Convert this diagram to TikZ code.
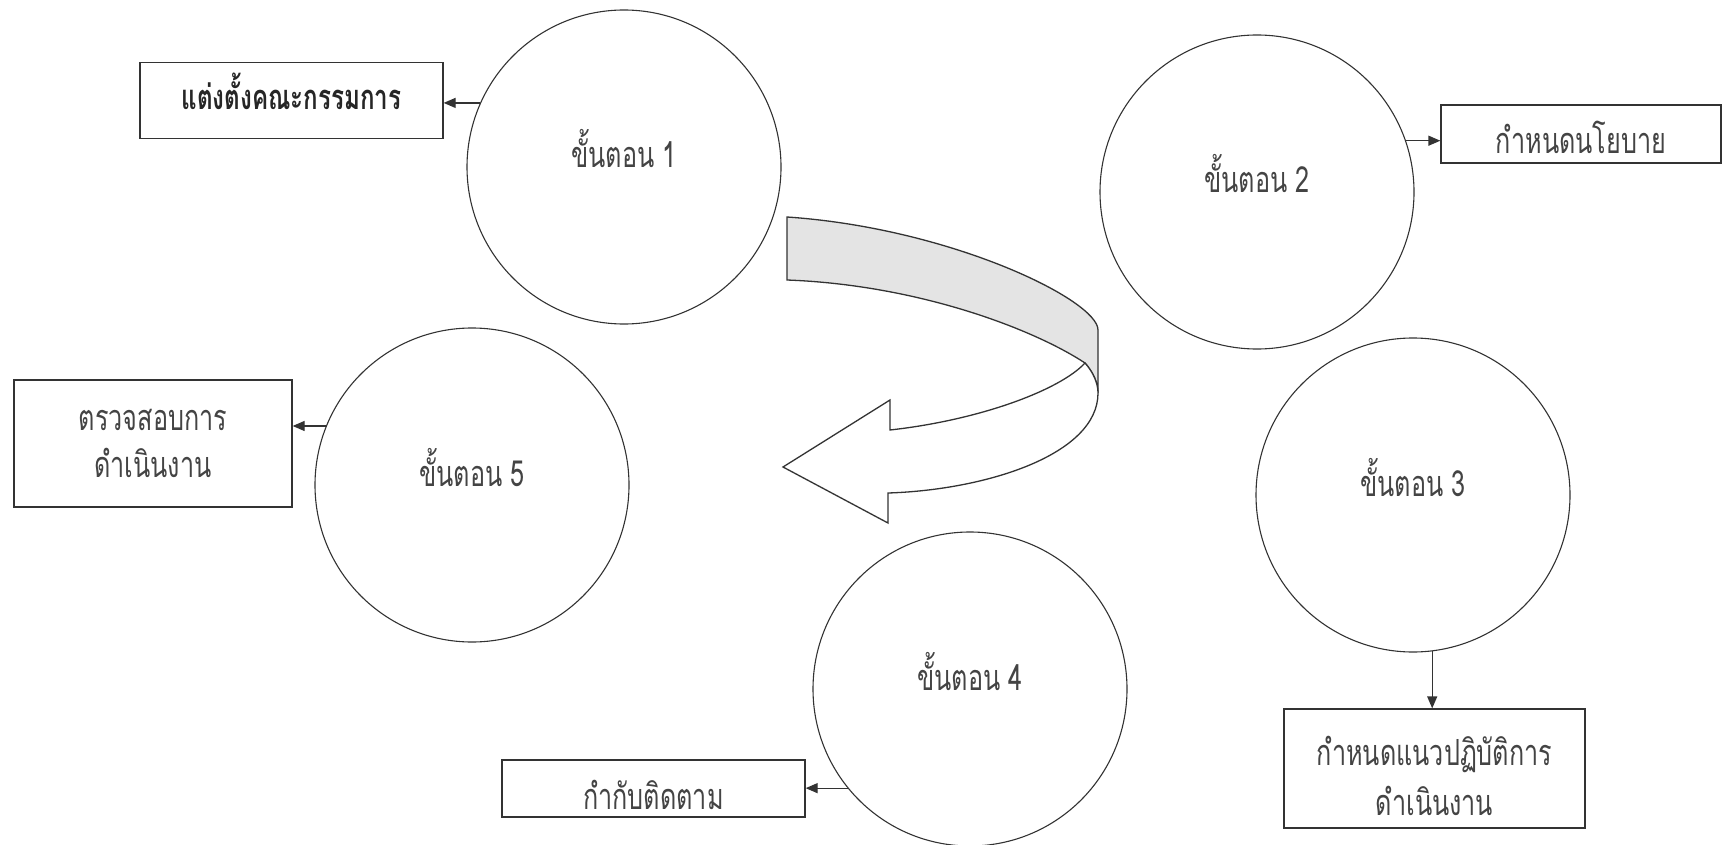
\documentclass[tikz,border=0pt]{standalone}
\usepackage{fontspec}
\newfontfamily\thai[Script=Thai,FakeStretch=0.7]{Loma}
\usetikzlibrary{arrows.meta}
\definecolor{ink}{HTML}{333333}
\definecolor{txt}{HTML}{444444}
\definecolor{band}{HTML}{E4E4E4}
\begin{document}
\begin{tikzpicture}[x=1pt,y=-1pt,
  stepc/.style={circle, draw=ink, line width=1.1pt, minimum size=314pt, inner sep=0pt,
    text=txt, text height=12pt, text depth=10pt, font=\thai\fontsize{36}{40}\selectfont},
  tbox/.style={draw=ink, line width=1.3pt, inner sep=0pt, text=txt, align=center,
    font=\thai\fontsize{36}{47}\selectfont},
  link/.style={draw=ink, line width=1.3pt, -{Triangle[length=12pt,width=10pt]}},
  bandline/.style={draw=ink, line width=1.3pt, line join=miter}]
\useasboundingbox (0,0) rectangle (1723,845);
\fill[white] (0,0) rectangle (1723,845);

% circles
\node[stepc] (c1) at (624,167) {ขั้นตอน 1};
\node[stepc] (c2) at (1257,192) {ขั้นตอน 2};
\node[stepc] (c3) at (1413,495) {ขั้นตอน 3};
\node[stepc] (c4) at (970,689) {ขั้นตอน 4};
\node[stepc] (c5) at (472,485) {ขั้นตอน 5};

% boxes
\node[tbox, minimum width=303pt, minimum height=76pt, text height=22pt, text depth=3pt,
  font=\thai\bfseries\fontsize{34.5}{40}\selectfont, text=black!85] (b1) at (291.5,100.5) {แต่งตั้งคณะกรรมการ};
\node[tbox, minimum width=280pt, minimum height=58pt, text height=42pt, text depth=2pt] (b2) at (1581,134) {กำหนดนโยบาย};
\node[tbox, minimum width=301pt, minimum height=113pt, font=\thai\fontsize{36}{50}\selectfont] (b3) at (1434.5,768.5)
  {\rule{0pt}{56pt}กำหนดแนวปฏิบัติการ\\ดำเนินงาน\rule[-13pt]{0pt}{13pt}};
\node[tbox, minimum width=303pt, minimum height=57pt, text height=43pt, text depth=2pt] (b4) at (653.5,788.5) {กำกับติดตาม};
\node[tbox, minimum width=278pt, minimum height=127pt] (b5) at (153,443.5)
  {\rule{0pt}{44pt}ตรวจสอบการ\\ดำเนินงาน\rule[-24pt]{0pt}{24pt}};

% connectors
\draw[link] (c1.156) -- (c1.156 -| b1.east);
\draw[link] (c2.19.5) -- (c2.19.5 -| b2.west);
\draw[link] (c3.-83) -- (c3.-83 |- b3.north);
\draw[link] (c4.219.1) -- (c4.219.1 -| b4.east);
\draw[link] (c5.158.3) -- (c5.158.3 -| b5.east);

% big curved arrow
\coordinate (P1) at (787,217);
\coordinate (B) at (787,280);
\coordinate (P2) at (1098,330);
\coordinate (P3) at (1098,393);
\coordinate (Q) at (1085,363);
\coordinate (P4) at (888,493);
\coordinate (P5) at (888,523);
\coordinate (T) at (783,467);
\coordinate (P6) at (890,400);
\coordinate (P7) at (890,430);
\path[bandline, fill=band] (P1) .. controls (950,228) and (1098,300) .. (P2)
  -- (P3) .. controls (1098,383) and (1093,372) .. (Q)
  .. controls (1035,330) and (920,285) .. (B) -- cycle;
\path[bandline, fill=white] (Q) .. controls (1060,390) and (980,420) .. (P7)
  -- (P6) -- (T) -- (P5) -- (P4)
  .. controls (985,490) and (1098,455) .. (P3)
  .. controls (1098,383) and (1093,372) .. (Q) -- cycle;
\end{tikzpicture}
\end{document}
